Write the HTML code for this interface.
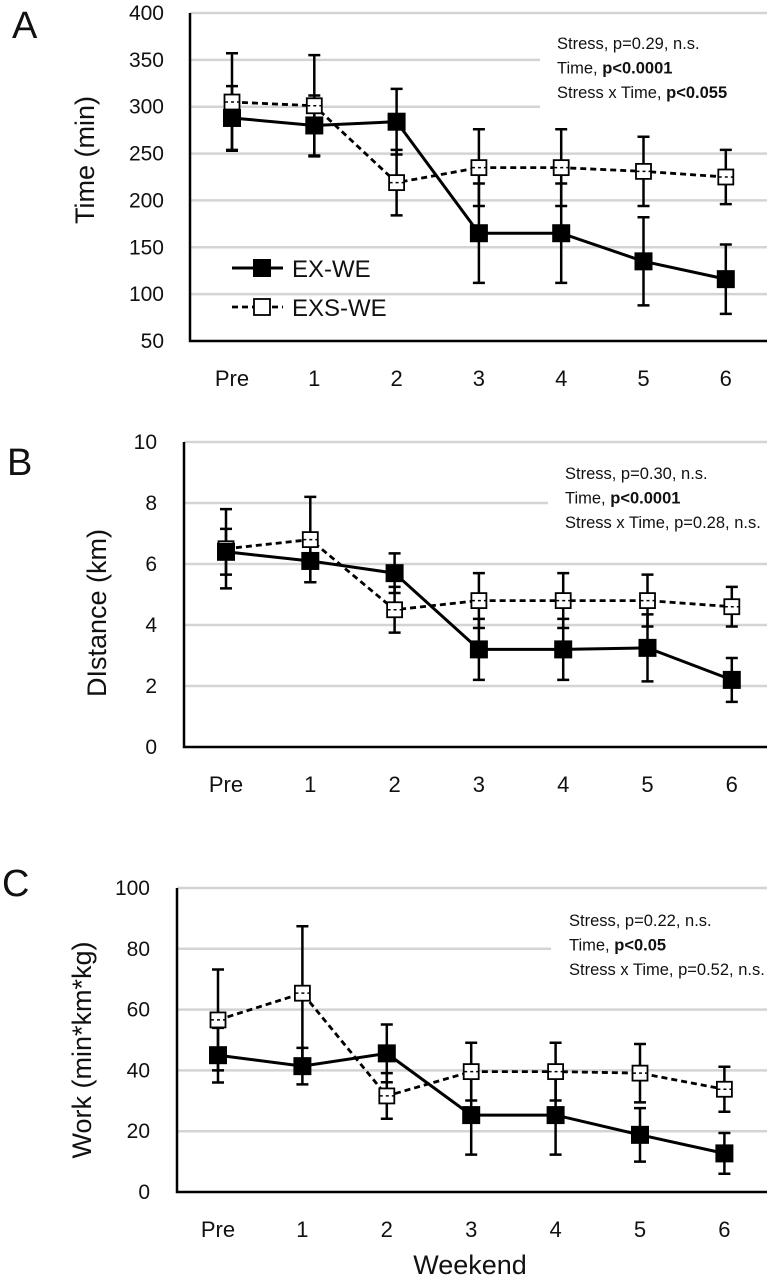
<!DOCTYPE html>
<html><head><meta charset="utf-8"><style>
html,body{margin:0;padding:0;background:#fff;}
svg{display:block;font-family:"Liberation Sans",Arial,sans-serif;}
</style></head><body>
<svg id="fig" width="775" height="1280" viewBox="0 0 775 1280"></svg>
<script>
const categories = ["Pre","1","2","3","4","5","6"];
// Panel A: Time (min)
const timeTicks = [50,100,150,200,250,300,350,400];
const timeEx = [288,280,284,165,165,135,116];
const timeExErr = [34,32,35,53,53,47,37];
const timeExs = [305,301,219,235,235,231,225];
const timeExsErr = [52,54,35,41,41,37,29];
// Panel B: Distance (km)
const distTicks = [0,2,4,6,8,10];
const distEx = [6.4,6.1,5.7,3.2,3.2,3.25,2.2];
const distExErr = [0.75,0.7,0.65,1.0,1.0,1.1,0.72];
const distExs = [6.5,6.8,4.5,4.8,4.8,4.8,4.6];
const distExsErr = [1.3,1.4,0.75,0.9,0.9,0.85,0.65];
// Panel C: Work
const workTicks = [0,20,40,60,80,100];
const workEx = [45,41.4,45.6,25.3,25.3,18.8,12.7];
const workExErr = [9,6,9.5,13,13,8.8,6.7];
const workExs = [56.6,65.4,31.6,39.6,39.6,39.1,33.8];
const workExsErr = [16.6,22,7.5,9.5,9.5,9.6,7.4];

const NS="http://www.w3.org/2000/svg";
const svg=document.getElementById('fig');
function mk(tag,attrs,parent){const e=document.createElementNS(NS,tag);for(const k in attrs)e.setAttribute(k,attrs[k]);(parent||svg).appendChild(e);return e;}

function panel(cfg){
  const g=mk('g',{});
  
  
  const ymin=cfg.ticks[0], ymax=cfg.ticks[cfg.ticks.length-1];
  const yS=v=>cfg.bottom-(v-ymin)/(ymax-ymin)*(cfg.bottom-cfg.top);
  const xS=i=>cfg.x0+i*cfg.dx;
  // gridlines
  cfg.ticks.forEach(t=>{
    if(t===ymin)return;
    const y=yS(t);
    const end=(cfg.shortTicks.indexOf(t)>=0)?cfg.shortEnd:cfg.right;
    const l=mk('line',{x1:cfg.left,x2:end,y1:y,y2:y,stroke:'#d4d4d4','stroke-width':2.5},g);
    
    
  });
  cfg.ticks.forEach(t=>{
    const tx=mk('text',{x:cfg.labelX,y:yS(t)+7,'text-anchor':'end','font-size':21,fill:'#111'},g);
    tx.textContent=t;
    
    
  });
  const ax=mk('path',{d:`M${cfg.left},${cfg.top} V${cfg.bottom} H${cfg.right}`,fill:'none',stroke:'#000','stroke-width':2.5},g);
  
  
  categories.forEach((c,i)=>{
    const tx=mk('text',{x:xS(i),y:cfg.bottom+45,'text-anchor':'middle','font-size':22,fill:'#111'},g);
    tx.textContent=c;
    
    
  });
  const yt=mk('text',{x:0,y:0,'text-anchor':'middle','font-size':27,fill:'#111',transform:`translate(${cfg.titleX},${cfg.titleY}) rotate(-90)`},g);
  yt.textContent=cfg.title;
  
  
  const lt=mk('text',{x:cfg.letterX,y:cfg.letterY,'font-size':38,fill:'#111'},g);
  lt.textContent=cfg.letter;
  
  
  // stats
  cfg.stats.forEach((line,k)=>{
    const tx=mk('text',{x:cfg.statX,y:cfg.statY+k*24.5,'font-size':16.5,fill:'#111'},g);
    
    
    line.forEach(([s,b])=>{const sp=mk('tspan',{'font-weight':b?'bold':'normal'},tx);sp.textContent=s;});
  });
  // series
  const series=[[cfg.exs,cfg.exsErr,true],[cfg.ex,cfg.exErr,false]];
  series.forEach(([vals,errs,open])=>{
    errs.forEach((e,i)=>{
      const x=xS(i),y1=yS(vals[i]+e),y2=yS(vals[i]-e);
      const eb=mk('path',{d:`M${x},${y1}V${y2}M${x-6},${y1}H${x+6}M${x-6},${y2}H${x+6}`,stroke:'#000','stroke-width':2.5,fill:'none'},g);
      
      
    });
  });
  series.forEach(([vals,errs,open])=>{
    const pts=vals.map((v,i)=>xS(i)+','+yS(v)).join(' ');
    const pl=mk('polyline',{points:pts,fill:'none',stroke:'#000','stroke-width':open?2.8:3,'stroke-dasharray':open?'6,4':'none'},g);
    
    
    vals.forEach((v,i)=>{
      const s=open?15:17;
      const r=mk('rect',{x:xS(i)-s/2,y:yS(v)-s/2,width:s,height:s,fill:open?'#fff':'#000',stroke:'#000','stroke-width':open?1.8:1},g);
      
      
    });
    if(open){
      // redraw dashed line thin through open markers (as in reference)
      vals.forEach((v,i)=>{const l=mk('line',{x1:xS(i)-7,x2:xS(i)+7,y1:yS(v),y2:yS(v),stroke:'#000','stroke-width':1.5,'stroke-dasharray':'3,3'},g);
        
        });
    }
  });
  return g;
}

panel({name:'panel-a-time',letter:'A',letterX:12,letterY:38,ticks:timeTicks,top:13,bottom:341,left:190,right:767,
  shortTicks:[350,300],shortEnd:540,labelX:164,x0:232,dx:82.3,title:'Time (min)',titleX:94,titleY:160,
  stats:[[['Stress, p=0.29, n.s.',0]],[['Time, ',0],['p<0.0001',1]],[['Stress x Time, ',0],['p<0.055',1]]],statX:557,statY:49,
  ex:timeEx,exErr:timeExErr,exs:timeExs,exsErr:timeExsErr});
panel({name:'panel-b-distance',letter:'B',letterX:7,letterY:475,ticks:distTicks,top:442,bottom:747,left:184,right:767,
  shortTicks:[8],shortEnd:548,labelX:157,x0:226,dx:84.3,title:'DIstance (km)',titleX:106,titleY:613,
  stats:[[['Stress, p=0.30, n.s.',0]],[['Time, ',0],['p<0.0001',1]],[['Stress x Time, p=0.28, n.s.',0]]],statX:565,statY:479,
  ex:distEx,exErr:distExErr,exs:distExs,exsErr:distExsErr});
panel({name:'panel-c-work',letter:'C',letterX:2,letterY:896,ticks:workTicks,top:888,bottom:1192,left:177,right:767,
  shortTicks:[80],shortEnd:551,labelX:150,x0:218,dx:84.4,title:'Work (min*km*kg)',titleX:91,titleY:1050,
  stats:[[['Stress, p=0.22, n.s.',0]],[['Time, ',0],['p<0.05',1]],[['Stress x Time, p=0.52, n.s.',0]]],statX:569,statY:926,
  ex:workEx,exErr:workExErr,exs:workExs,exsErr:workExsErr});

// legend (panel A)
const lg=mk('g',{});


const l1=mk('line',{x1:232,x2:283,y1:268,y2:268,stroke:'#000','stroke-width':3},lg);


const r1=mk('rect',{x:253,y:259,width:18,height:18,fill:'#000'},lg);


const t1=mk('text',{x:292,y:277,'font-size':24,fill:'#111'},lg);t1.textContent='EX-WE';


const l2=mk('line',{x1:232,x2:283,y1:307,y2:307,stroke:'#000','stroke-width':2.8,'stroke-dasharray':'6,4'},lg);


const r2=mk('rect',{x:254,y:299,width:16,height:16,fill:'#fff',stroke:'#000','stroke-width':1.8},lg);


const t2=mk('text',{x:292,y:316,'font-size':24,fill:'#111'},lg);t2.textContent='EXS-WE';



const xt=mk('text',{x:470,y:1274,'text-anchor':'middle','font-size':27,fill:'#111'});
xt.textContent='Weekend';


</script>
</body></html>
